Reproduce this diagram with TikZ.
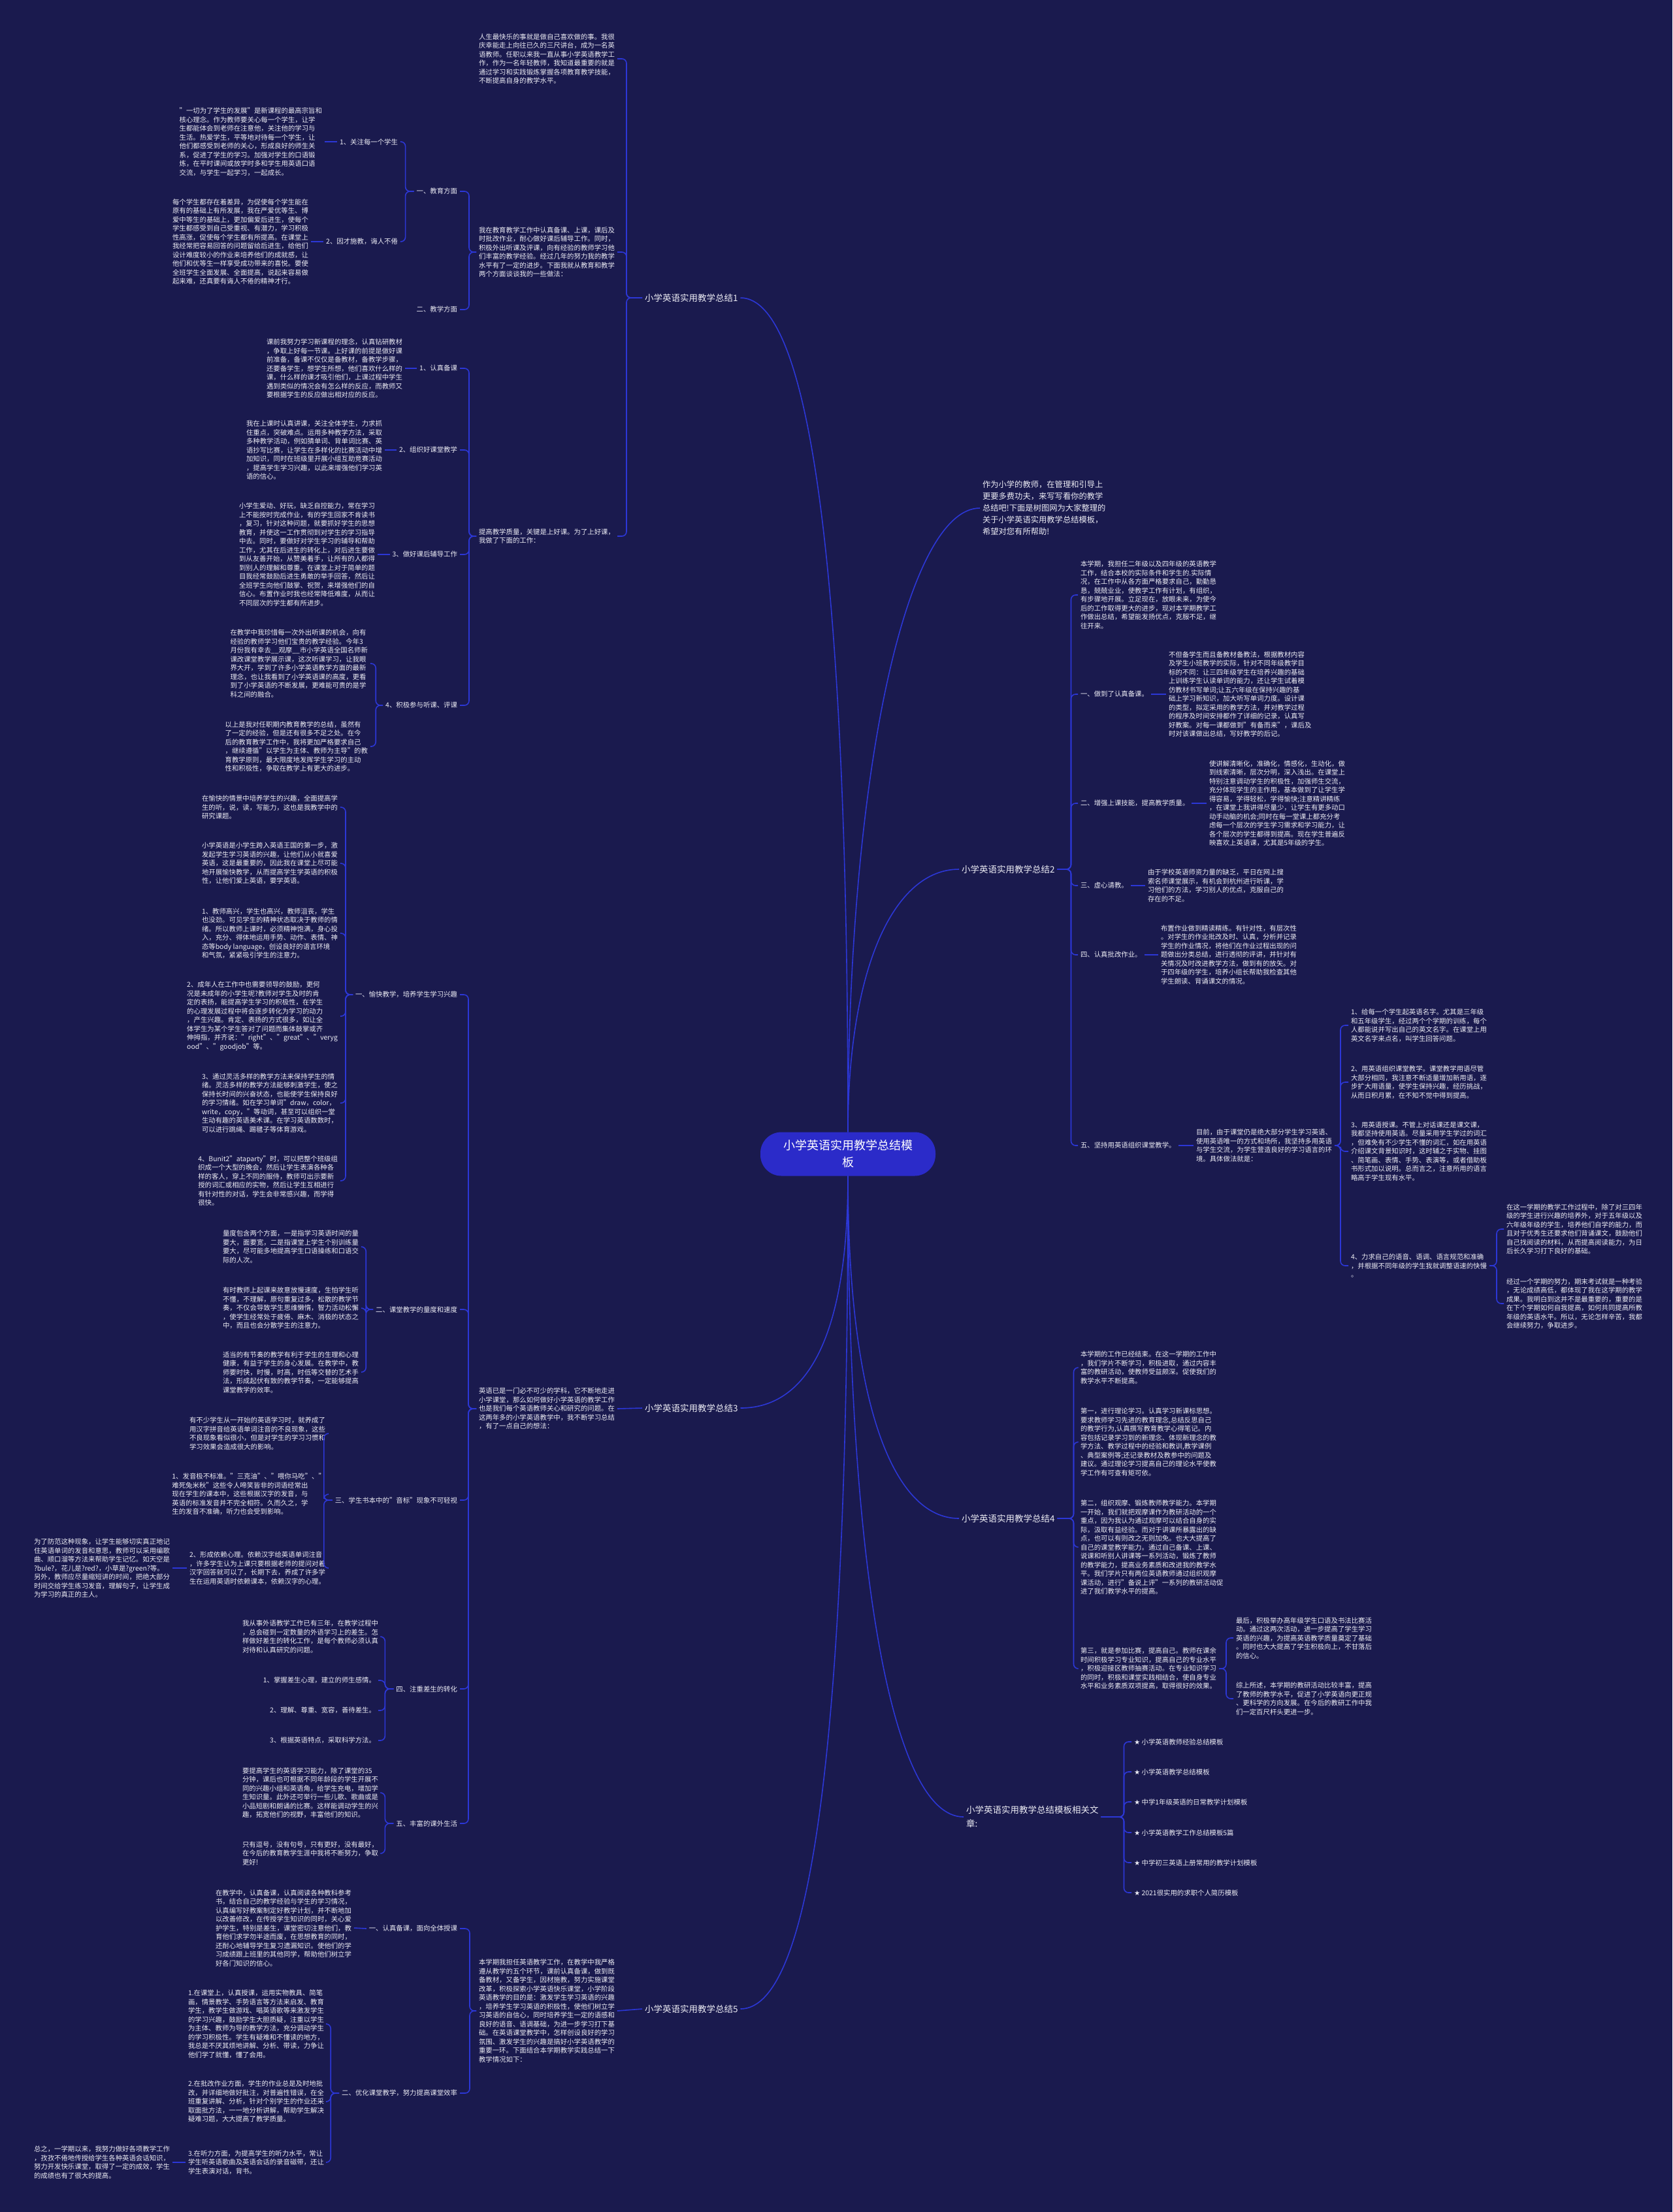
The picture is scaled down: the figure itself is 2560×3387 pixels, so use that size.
\documentclass[tikz,border=0pt]{standalone}
\usepackage{fontspec}
\setmainfont{Noto Sans CJK SC}
\newfontfamily\starfont{DejaVu Sans}
\definecolor{bg}{HTML}{1A1A4E}
\definecolor{linkblue}{HTML}{2C37D6}
\definecolor{rootblue}{HTML}{2B2BC9}
\definecolor{txt}{HTML}{ECECF4}
\tikzset{
  paratext/.style={text=txt, align=left, inner sep=0pt, outer xsep=4pt, font=\fontsize{10.4}{13.5}\selectfont},
  branchtext/.style={paratext, font=\fontsize{13.5}{21}\selectfont},
  introtext/.style={paratext, font=\fontsize{12.3}{18}\selectfont},
  rootbox/.style={fill=rootblue, text=white, align=center, rounded corners=32pt, minimum width=268pt, minimum height=67pt, font=\fontsize{18}{26}\selectfont},
  linkline/.style={draw=linkblue, line width=1.6pt, rounded corners=7pt},
  rootline/.style={draw=linkblue, line width=1.6pt}
}
\begin{document}
\begin{tikzpicture}[x=1pt,y=-1pt]
\fill[bg] (0,0) rectangle (2560,3387);
\useasboundingbox (0,0) rectangle (2560,3387);
\node[rootbox] (root) at (1298,1767) {小学英语实用教学总结模\\板};

\node[branchtext, anchor=west] (sum1) at (983,456) {小学英语实用教学总结1};
\node[paratext, anchor=east] (p11) at (945,90) {人生最快乐的事就是做自己喜欢做的事。我很\\庆幸能走上向往已久的三尺讲台，成为一名英\\语教师。任职以来我一直从事小学英语教学工\\作，作为一名年轻教师，我知道最重要的就是\\通过学习和实践锻炼掌握各项教育教学技能，\\不断提高自身的教学水平。};
\node[paratext, anchor=east] (p12) at (945,386) {我在教育教学工作中认真备课、上课，课后及\\时批改作业，耐心做好课后辅导工作。同时，\\积极外出听课及评课，向有经验的教师学习他\\们丰富的教学经验。经过几年的努力我的教学\\水平有了一定的进步。下面我就从教育和教学\\两个方面谈谈我的一些做法：};
\node[paratext, anchor=east] (p13) at (945,821) {提高教学质量，关键是上好课。为了上好课，\\我做了下面的工作：};
\node[paratext, anchor=east] (s11) at (704,293) {一、教育方面};
\node[paratext, anchor=east] (s12) at (704,474) {二、教学方面};
\node[paratext, anchor=east] (s111) at (613,217) {1、关注每一个学生};
\node[paratext, anchor=east] (s112) at (613,370) {2、因才施教，诲人不倦};
\node[paratext, anchor=east] (t111) at (497,217) {"一切为了学生的发展"是新课程的最高宗旨和\\核心理念。作为教师要关心每一个学生，让学\\生都能体会到老师在注意他，关注他的学习与\\生活。热爱学生，平等地对待每一个学生，让\\他们都感受到老师的关心，形成良好的师生关\\系，促进了学生的学习。加强对学生的口语锻\\炼，在平时课间或放学时多和学生用英语口语\\交流，与学生一起学习，一起成长。};
\node[paratext, anchor=east] (t112) at (476,370) {每个学生都存在着差异，为促使每个学生能在\\原有的基础上有所发展，我在严爱优等生、博\\爱中等生的基础上，更加偏爱后进生，使每个\\学生都感受到自己受重视、有潜力，学习积极\\性高涨，促使每个学生都有所提高。在课堂上\\我经常把容易回答的问题留给后进生，给他们\\设计难度较小的作业来培养他们的成就感，让\\他们和优等生一样享受成功带来的喜悦。要使\\全班学生全面发展、全面提高，说起来容易做\\起来难，还真要有诲人不倦的精神才行。};
\node[paratext, anchor=east] (s13) at (704,564) {1、认真备课};
\node[paratext, anchor=east] (s14) at (704,689) {2、组织好课堂教学};
\node[paratext, anchor=east] (s15) at (704,849) {3、做好课后辅导工作};
\node[paratext, anchor=east] (s16) at (704,1080) {4、积极参与听课、评课};
\node[paratext, anchor=east] (t13) at (620,564) {课前我努力学习新课程的理念，认真钻研教材\\，争取上好每一节课。上好课的前提是做好课\\前准备，备课不仅仅是备教材，备教学步骤，\\还要备学生，想学生所想，他们喜欢什么样的\\课，什么样的课才吸引他们，上课过程中学生\\遇到类似的情况会有怎么样的反应，而教师又\\要根据学生的反应做出相对应的反应。};
\node[paratext, anchor=east] (t14) at (589,689) {我在上课时认真讲课，关注全体学生，力求抓\\住重点，突破难点。运用多种教学方法，采取\\多种教学活动，例如猜单词、背单词比赛、英\\语抄写比赛，让学生在多样化的比赛活动中增\\加知识，同时在班级里开展小组互助竞赛活动\\，提高学生学习兴趣，以此来增强他们学习英\\语的信心。};
\node[paratext, anchor=east] (t15) at (578,849) {小学生爱动、好玩，缺乏自控能力，常在学习\\上不能按时完成作业，有的学生回家不肯读书\\，复习，针对这种问题，就要抓好学生的思想\\教育，并使这一工作贯彻到对学生的学习指导\\中去。同时，要做好对学生学习的辅导和帮助\\工作，尤其在后进生的转化上，对后进生要做\\到从友善开始，从赞美着手，让所有的人都得\\到别人的理解和尊重。在课堂上对于简单的题\\目我经常鼓励后进生勇敢的举手回答，然后让\\全班学生向他们鼓掌、祝贺，来增强他们的自\\信心。布置作业时我也经常降低难度，从而让\\不同层次的学生都有所进步。};
\node[paratext, anchor=east] (t16a) at (567,1016) {在教学中我珍惜每一次外出听课的机会，向有\\经验的教师学习他们宝贵的教学经验。今年3\\月份我有幸去\_\_观摩\_\_市小学英语全国名师新\\课改课堂教学展示课，这次听课学习，让我眼\\界大开，学到了许多小学英语教学方面的最新\\理念，也让我看到了小学英语课的高度，更看\\到了小学英语的不断发展，更难能可贵的是学\\科之间的融合。};
\node[paratext, anchor=east] (t16b) at (567,1143) {以上是我对任职期内教育教学的总结，虽然有\\了一定的经验，但是还有很多不足之处。在今\\后的教育教学工作中，我将更加严格要求自己\\，继续遵循"以学生为主体、教师为主导"的教\\育教学原则，最大限度地发挥学生学习的主动\\性和积极性，争取在教学上有更大的进步。};

\node[introtext, anchor=west] (intro) at (1500,778) {作为小学的教师，在管理和引导上\\更要多费功夫，来写写看你的教学\\总结吧!下面是树图网为大家整理的\\关于小学英语实用教学总结模板，\\希望对您有所帮助!};

\node[branchtext, anchor=west] (sum2) at (1468,1331) {小学英语实用教学总结2};
\node[paratext, anchor=west] (p21) at (1650,911) {本学期，我担任二年级以及四年级的英语教学\\工作，结合本校的实际条件和学生的.实际情\\况，在工作中从各方面严格要求自己，勤勤恳\\恳，兢兢业业，使教学工作有计划，有组织，\\有步骤地开展。立足现在，放眼未来，为使今\\后的工作取得更大的进步，现对本学期教学工\\作做出总结，希望能发扬优点，克服不足，继\\往开来。};
\node[paratext, anchor=west] (s21) at (1650,1063) {一、做到了认真备课。};
\node[paratext, anchor=west] (t21) at (1785,1063) {不但备学生而且备教材备教法，根据教材内容\\及学生小班教学的实际，针对不同年级教学目\\标的不同：让三四年级学生在培养兴趣的基础\\上训练学生认读单词的能力，还让学生试着模\\仿教材书写单词;让五六年级在保持兴趣的基\\础上学习新知识，加大听写单词力度。设计课\\的类型，拟定采用的教学方法，并对教学过程\\的程序及时间安排都作了详细的记录，认真写\\好教案。对每一课都做到"有备而来"，课后及\\时对该课做出总结，写好教学的后记。};
\node[paratext, anchor=west] (s22) at (1650,1230) {二、增强上课技能，提高教学质量。};
\node[paratext, anchor=west] (t22) at (1847,1230) {使讲解清晰化，准确化，情感化，生动化，做\\到线索清晰，层次分明，深入浅出。在课堂上\\特别注意调动学生的积极性，加强师生交流，\\充分体现学生的主作用，基本做到了让学生学\\得容易，学得轻松，学得愉快;注意精讲精练\\，在课堂上我讲得尽量少，让学生有更多动口\\动手动脑的机会;同时在每一堂课上都充分考\\虑每一个层次的学生学习需求和学习能力，让\\各个层次的学生都得到提高。现在学生普遍反\\映喜欢上英语课，尤其是5年级的学生。};
\node[paratext, anchor=west] (s23) at (1650,1356) {三、虚心请教。};
\node[paratext, anchor=west] (t23) at (1753,1356) {由于学校英语师资力量的缺乏，平日在网上搜\\索名师课堂展示，有机会到杭州进行听课，学\\习他们的方法，学习别人的优点，克服自己的\\存在的不足。};
\node[paratext, anchor=west] (s24) at (1650,1462) {四、认真批改作业。};
\node[paratext, anchor=west] (t24) at (1773,1462) {布置作业做到精读精练。有针对性，有层次性\\。对学生的作业批改及时、认真，分析并记录\\学生的作业情况，将他们在作业过程出现的问\\题做出分类总结，进行透彻的评讲，并针对有\\关情况及时改进教学方法，做到有的放矢。对\\于四年级的学生，培养小组长帮助我检查其他\\学生朗读、背诵课文的情况。};
\node[paratext, anchor=west] (s25) at (1650,1754) {五、坚持用英语组织课堂教学。};
\node[paratext, anchor=west] (t25) at (1827,1754) {目前，由于课堂仍是绝大部分学生学习英语、\\使用英语唯一的方式和场所，我坚持多用英语\\与学生交流，为学生营造良好的学习语言的环\\境。具体做法就是：};
\node[paratext, anchor=west] (u1) at (2064,1570) {1、给每一个学生起英语名字。尤其是三年级\\和五年级学生，经过两个个学期的训练，每个\\人都能说并写出自己的英文名字。在课堂上用\\英文名字来点名，叫学生回答问题。};
\node[paratext, anchor=west] (u2) at (2064,1657) {2、用英语组织课堂教学。课堂教学用语尽管\\大部分相同，我注意不断适量增加新用语，逐\\步扩大用语量，使学生保持兴趣，经历挑战，\\从而日积月累，在不知不觉中得到提高。};
\node[paratext, anchor=west] (u3) at (2064,1763) {3、用英语授课。不管上对话课还是课文课，\\我都坚持使用英语。尽量采用学生学过的词汇\\，但难免有不少学生不懂的词汇，如在用英语\\介绍课文背景知识时，这时辅之于实物、挂图\\、简笔画、表情、手势、表演等，或者借助板\\书形式加以说明。总而言之，注意所用的语言\\略高于学生现有水平。};
\node[paratext, anchor=west] (u4) at (2064,1938) {4、力求自己的语音、语调、语言规范和准确\\，并根据不同年级的学生我就调整语速的快慢\\。};
\node[paratext, anchor=west] (v1) at (2302,1882) {在这一学期的教学工作过程中，除了对三四年\\级的学生进行兴趣的培养外，对于五年级以及\\六年级年级的学生，培养他们自学的能力，而\\且对于优秀生还要求他们背诵课文，鼓励他们\\自己找阅读的材料，从而提高阅读能力，为日\\后长久学习打下良好的基础。};
\node[paratext, anchor=west] (v2) at (2302,1996) {经过一个学期的努力，期末考试就是一种考验\\，无论成绩高低，都体现了我在这学期的教学\\成果。我明白到这并不是最重要的，重要的是\\在下个学期如何自我提高，如何共同提高所教\\年级的英语水平。所以，无论怎样辛苦，我都\\会继续努力，争取进步。};

\node[branchtext, anchor=west] (sum3) at (983,2156) {小学英语实用教学总结3};
\node[paratext, anchor=east] (p3) at (945,2157) {英语已是一门必不可少的学科，它不断地走进\\小学课堂，那么如何做好小学英语的教学工作\\也是我们每个英语教师关心和研究的问题。在\\这两年多的小学英语教学中，我不断学习总结\\，有了一点自己的想法：};
\node[paratext, anchor=east] (s31) at (704,1523) {一、愉快教学，培养学生学习兴趣};
\node[paratext, anchor=east] (s32) at (704,2005) {二、课堂教学的量度和速度};
\node[paratext, anchor=east] (s33) at (704,2297) {三、学生书本中的"音标"现象不可轻视};
\node[paratext, anchor=east] (s34) at (704,2586) {四、注重差生的转化};
\node[paratext, anchor=east] (s35) at (704,2792) {五、丰富的课外生活};
\node[paratext, anchor=east] (a1) at (521,1236) {在愉快的情景中培养学生的兴趣，全面提高学\\生的听，说，读，写能力，这也是我教学中的\\研究课题。};
\node[paratext, anchor=east] (a2) at (521,1322) {小学英语是小学生跨入英语王国的第一步，激\\发起学生学习英语的兴趣，让他们从小就喜爱\\英语，这是最重要的，因此我在课堂上尽可能\\地开展愉快教学，从而提高学生学英语的积极\\性，让他们爱上英语，要学英语。};
\node[paratext, anchor=east] (a3) at (521,1429) {1、教师高兴，学生也高兴，教师沮丧，学生\\也没劲。可见学生的精神状态取决于教师的情\\绪。所以教师上课时，必须精神饱满，身心投\\入，充分、得体地运用手势、动作、表情、神\\态等body language，创设良好的语言环境\\和气氛，紧紧吸引学生的注意力。};
\node[paratext, anchor=east] (a4) at (521,1556) {2、成年人在工作中也需要领导的鼓励，更何\\况是未成年的小学生呢?教师对学生及时的肯\\定的表扬，能提高学生学习的积极性，在学生\\的心理发展过程中将会逐步转化为学习的动力\\，产生兴趣。肯定、表扬的方式很多，如让全\\体学生为某个学生答对了问题而集体鼓掌或齐\\伸拇指，并齐说："right"、"great"、"veryg\\ood"、"goodjob"等。};
\node[paratext, anchor=east] (a5) at (521,1689) {3、通过灵活多样的教学方法来保持学生的情\\绪。灵活多样的教学方法能够刺激学生，使之\\保持长时间的兴奋状态，也能使学生保持良好\\的学习情绪。如在学习单词"draw，color，\\write，copy，"等动词，甚至可以组织一堂\\生动有趣的英语美术课。在学习英语数数时，\\可以进行跳绳、踢毽子等体育游戏。};
\node[paratext, anchor=east] (a6) at (521,1808) {4、Bunit2"ataparty"时，可以把整个班级组\\织成一个大型的晚会，然后让学生表演各种各\\样的客人，穿上不同的服侍，教师可出示要新\\授的词汇或相应的实物，然后让学生互相进行\\有针对性的对话，学生会非常感兴趣，而学得\\很快。};
\node[paratext, anchor=east] (q1) at (553,1909) {量度包含两个方面，一是指学习英语时间的量\\要大，面要宽，二是指课堂上学生个别训练量\\要大，尽可能多地提高学生口语操练和口语交\\际的人次。};
\node[paratext, anchor=east] (q2) at (553,2003) {有时教师上起课来故意放慢速度，生怕学生听\\不懂，不理解，原句重复过多，松散的教学节\\奏，不仅会导致学生思维懒惰，智力活动松懈\\，使学生经常处于疲倦、麻木、消极的状态之\\中，而且也会分散学生的注意力。};
\node[paratext, anchor=east] (q3) at (553,2101) {适当的有节奏的教学有利于学生的生理和心理\\健康，有益于学生的身心发展。在教学中，教\\师要时快，时慢，时高，时低等交替的艺术手\\法，形成起伏有致的教学节奏，一定能够提高\\课堂教学的效率。};
\node[paratext, anchor=east] (c1) at (502,2195) {有不少学生从一开始的英语学习时，就养成了\\用汉字拼音给英语单词注音的不良现象，这些\\不良现象看似很小，但是对学生的学习习惯和\\学习效果会造成很大的影响。};
\node[paratext, anchor=east] (c2) at (502,2288) {1、发音极不标准。"三克油"、"喂你马吃"、"\\难死兔米秋"这些令人啼笑皆非的词语经常出\\现在学生的课本中，这些根据汉字的发音，与\\英语的标准发音并不完全相符。久而久之，学\\生的发音不准确，听力也会受到影响。};
\node[paratext, anchor=east] (c3) at (502,2401) {2、形成依赖心理。依赖汉字给英语单词注音\\，许多学生认为上课只要根据老师的提问对着\\汉字回答就可以了，长期下去，养成了许多学\\生在运用英语时依赖课本，依赖汉字的心理。};
\node[paratext, anchor=east] (c4) at (264,2401) {为了防范这种现象，让学生能够切实真正地记\\住英语单词的发音和意思，教师可以采用编歌\\曲、顺口溜等方法来帮助学生记忆。如天空是\\?bule?，花儿是?red?，小草是?green?等。\\另外，教师应尽量缩短讲的时间，把绝大部分\\时间交给学生练习发音，理解句子，让学生成\\为学习的真正的主人。};
\node[paratext, anchor=east] (d0) at (583,2506) {我从事外语教学工作已有三年，在教学过程中\\，总会碰到一定数量的外语学习上的差生。怎\\样做好差生的转化工作，是每个教师必须认真\\对待和认真研究的问题。};
\node[paratext, anchor=east] (d1) at (579,2573) {1、掌握差生心理，建立的师生感情。};
\node[paratext, anchor=east] (d2) at (579,2619) {2、理解、尊重、宽容，善待差生。};
\node[paratext, anchor=east] (d3) at (579,2665) {3、根据英语特点，采取科学方法。};
\node[paratext, anchor=east] (e1) at (583,2745) {要提高学生的英语学习能力，除了课堂的35\\分钟，课后也可根据不同年龄段的学生开展不\\同的兴趣小组和英语角，给学生充电，增加学\\生知识量。此外还可举行一些儿歌、歌曲或是\\小品短剧和朗诵的比赛。这样能调动学生的兴\\趣，拓宽他们的视野，丰富他们的知识。};
\node[paratext, anchor=east] (e2) at (583,2838) {只有逗号，没有句号，只有更好，没有最好，\\在今后的教育教学生涯中我将不断努力，争取\\更好!};

\node[branchtext, anchor=west] (sum4) at (1468,2325) {小学英语实用教学总结4};
\node[paratext, anchor=west] (f1) at (1650,2094) {本学期的工作已经结束。在这一学期的工作中\\，我们学片不断学习，积极进取，通过内容丰\\富的教研活动，使教师受益颇深。促使我们的\\教学水平不断提高。};
\node[paratext, anchor=west] (f2) at (1650,2208) {第一，进行理论学习。认真学习新课标思想。\\要求教师学习先进的教育理念,总结反思自己\\的教学行为,认真撰写教育教学心得笔记。内\\容包括记录学习到的新理念、体现新理念的教\\学方法、教学过程中的经验和教训,教学课例\\、典型案例等;还记录教材及教参中的问题及\\建议。通过理论学习提高自己的理论水平使教\\学工作有可查有矩可依。};
\node[paratext, anchor=west] (f3) at (1650,2369) {第二，组织观摩、锻炼教师教学能力。本学期\\一开始，我们就把观摩课作为教研活动的一个\\重点，因为我认为通过观摩可以结合自身的实\\际，汲取有益经验。而对于讲课所暴露出的缺\\点，也可以有则改之无则加免。也大大提高了\\自己的课堂教学能力。通过自己备课、上课、\\说课和听别人讲课等一系列活动，锻炼了教师\\的教学能力，提高业务素质和改进我的教学水\\平。我们学片只有两位英语教师通过组织观摩\\课活动，进行"备说上评"一系列的教研活动促\\进了我们教学水平的提高。};
\node[paratext, anchor=west] (f4) at (1650,2555) {第三，就是参加比赛，提高自己。教师在课余\\时间积极学习专业知识，提高自己的专业水平\\，积极迎接区教师抽赛活动。在专业知识学习\\的同时，积极和课堂实践相结合，使自身专业\\水平和业务素质双项提高，取得很好的效果。};
\node[paratext, anchor=west] (g1) at (1888,2508) {最后，积极举办高年级学生口语及书法比赛活\\动。通过这两次活动，进一步提高了学生学习\\英语的兴趣，为提高英语教学质量奠定了基础\\。同时也大大提高了学生积极向上，不甘落后\\的信心。};
\node[paratext, anchor=west] (g2) at (1888,2601) {综上所述，本学期的教研活动比较丰富，提高\\了教师的教学水平，促进了小学英语向更正规\\、更科学的方向发展。在今后的教研工作中我\\们一定百尺杆头更进一步。};

\node[branchtext, anchor=west] (rel) at (1475,2782) {小学英语实用教学总结模板相关文\\章:};
\node[paratext, anchor=west] (r1) at (1732,2667) {{\starfont ★} 小学英语教师经验总结模板};
\node[paratext, anchor=west] (r2) at (1732,2713) {{\starfont ★} 小学英语教学总结模板};
\node[paratext, anchor=west] (r3) at (1732,2759) {{\starfont ★} 中学1年级英语的日常教学计划模板};
\node[paratext, anchor=west] (r4) at (1732,2806) {{\starfont ★} 小学英语教学工作总结模板5篇};
\node[paratext, anchor=west] (r5) at (1732,2852) {{\starfont ★} 中学初三英语上册常用的教学计划模板};
\node[paratext, anchor=west] (r6) at (1732,2898) {{\starfont ★} 2021很实用的求职个人简历模板};

\node[branchtext, anchor=west] (sum5) at (983,3076) {小学英语实用教学总结5};
\node[paratext, anchor=east] (p5) at (945,3079) {本学期我担任英语教学工作，在教学中我严格\\遵从教学的五个环节，课前认真备课，做到既\\备教材，又备学生，因材施教，努力实施课堂\\改革，积极探索小学英语快乐课堂，小学阶段\\英语教学的目的是：激发学生学习英语的兴趣\\，培养学生学习英语的积极性，使他们树立学\\习英语的自信心，同时培养学生一定的语感和\\良好的语音、语调基础，为进一步学习打下基\\础。在英语课堂教学中，怎样创设良好的学习\\氛围、激发学生的兴趣是搞好小学英语教学的\\重要一环。下面结合本学期教学实践总结一下\\教学情况如下：};
\node[paratext, anchor=east] (s51) at (704,2953) {一、认真备课，面向全体授课};
\node[paratext, anchor=east] (s52) at (704,3205) {二、优化课堂教学，努力提高课堂效率};
\node[paratext, anchor=east] (h0) at (542,2952) {在教学中，认真备课，认真阅读各种教科参考\\书，结合自己的教学经验与学生的学习情况，\\认真编写好教案制定好教学计划，并不断地加\\以改善修改，在传授学生知识的同时，关心爱\\护学生，特别是差生，课堂密切注意他们，教\\育他们求学勿半途而废，在思想教育的同时，\\还耐心地辅导学生复习遗漏知识。使他们的学\\习成绩跟上班里的其他同学，帮助他们树立学\\好各门知识的信心。};
\node[paratext, anchor=east] (h1) at (500,3099) {1.在课堂上，认真授课，运用实物教具、简笔\\画，情景教学、手势语言等方法来启发、教育\\学生，教学生做游戏、唱英语歌等来激发学生\\的学习兴趣，鼓励学生大胆质疑，注重以学生\\为主体、教师为导的教学方法，充分调动学生\\的学习积极性。学生有疑难和不懂读的地方，\\我总是不厌其烦地讲解、分析、带读，力争让\\他们学了就懂，懂了会用。};
\node[paratext, anchor=east] (h2) at (500,3218) {2.在批改作业方面，学生的作业总是及时地批\\改，并详细地做好批注，对普遍性错误，在全\\班重复讲解、分析，针对个别学生的作业还采\\取面批方法，一一地分析讲解，帮助学生解决\\疑难习题，大大提高了教学质量。};
\node[paratext, anchor=east] (h3) at (500,3311) {3.在听力方面，为提高学生的听力水平，常让\\学生听英语歌曲及英语会话的录音磁带，还让\\学生表演对话，背书。};
\node[paratext, anchor=east] (h4) at (264,3311) {总之，一学期以来，我努力做好各项教学工作\\，孜孜不倦地传授给学生各种英语会话知识，\\努力开发快乐课堂，取得了一定的成效，学生\\的成绩也有了很大的提高。};

\draw[rootline] (root.north) .. controls +(0,-830) and +(110,0) .. (sum1.east);
\draw[rootline] (root.north) .. controls +(0,-560) and +(-110,0) .. (intro.west);
\draw[rootline] (root.north) .. controls +(0,-250) and +(-100,0) .. (sum2.west);
\draw[rootline] (root.south) .. controls +(0,250) and +(100,0) .. (sum3.east);
\draw[rootline] (root.south) .. controls +(0,350) and +(-100,0) .. (sum4.west);
\draw[rootline] (root.south) .. controls +(0,600) and +(-110,0) .. (rel.west);
\draw[rootline] (root.south) .. controls +(0,850) and +(110,0) .. (sum5.east);

\foreach \c in {p11,p12,p13} \draw[linkline] (sum1.west) -- ++(-24,0) |- (\c.east);
\foreach \c in {s11,s12} \draw[linkline] (p12.west) -- ++(-11,0) |- (\c.east);
\foreach \c in {s111,s112} \draw[linkline] (s11.west) -- ++(-13,0) |- (\c.east);
\draw[linkline] (s111.west) -- (t111.east);
\draw[linkline] (s112.west) -- (t112.east);
\foreach \c in {s13,s14,s15,s16} \draw[linkline] (p13.west) -- ++(-11,0) |- (\c.east);
\foreach \n in {13,14,15} \draw[linkline] (s\n.west) -- (t\n.east);
\foreach \c in {t16a,t16b} \draw[linkline] (s16.west) -- ++(-11,0) |- (\c.east);

\foreach \c in {p21,s21,s22,s23,s24,s25} \draw[linkline] (sum2.east) -- ++(21,0) |- (\c.west);
\foreach \n in {21,...,25} \draw[linkline] (s\n.east) -- (t\n.west);
\foreach \c in {u1,u2,u3,u4} \draw[linkline] (t25.east) -- ++(9,0) |- (\c.west);
\foreach \c in {v1,v2} \draw[linkline] (u4.east) -- ++(11,0) |- (\c.west);

\draw[linkline] (sum3.west) -- (p3.east);
\foreach \c in {s31,s32,s33,s34,s35} \draw[linkline] (p3.west) -- ++(-12,0) |- (\c.east);
\foreach \c in {a1,a2,a3,a4,a5,a6} \draw[linkline] (s31.west) -- ++(-11,0) |- (\c.east);
\foreach \c in {q1,q2,q3} \draw[linkline] (s32.west) -- ++(-11,0) |- (\c.east);
\foreach \c in {c1,c2,c3} \draw[linkline] (s33.west) -- ++(-13,0) |- (\c.east);
\draw[linkline] (c3.west) -- (c4.east);
\foreach \c in {d0,d1,d2,d3} \draw[linkline] (s34.west) -- ++(-13,0) |- (\c.east);
\foreach \c in {e1,e2} \draw[linkline] (s35.west) -- ++(-13,0) |- (\c.east);

\foreach \c in {f1,f2,f3,f4} \draw[linkline] (sum4.east) -- ++(25,0) |- (\c.west);
\foreach \c in {g1,g2} \draw[linkline] (f4.east) -- ++(11,0) |- (\c.west);
\foreach \c in {r1,r2,r3,r4,r5,r6} \draw[linkline] (rel.east) -- ++(35,0) |- (\c.west);

\draw[linkline] (sum5.west) -- (p5.east);
\foreach \c in {s51,s52} \draw[linkline] (p5.west) -- ++(-10,0) |- (\c.east);
\draw[linkline] (s51.west) -- (h0.east);
\foreach \c in {h1,h2,h3} \draw[linkline] (s52.west) -- ++(-13,0) |- (\c.east);
\draw[linkline] (h3.west) -- (h4.east);
\end{tikzpicture}
\end{document}
